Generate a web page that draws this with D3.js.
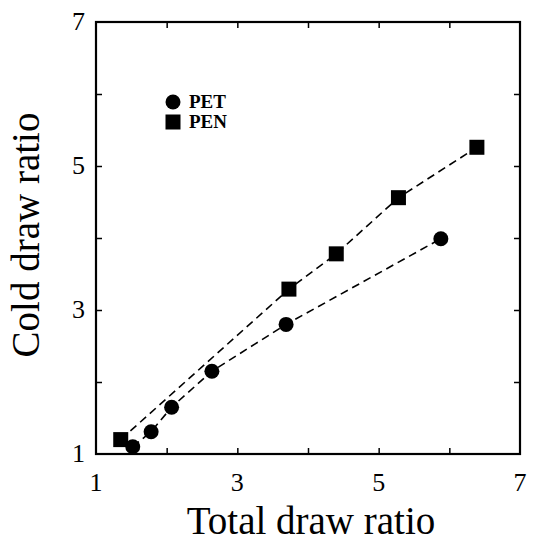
<!DOCTYPE html>
<html>
<head>
<meta charset="utf-8">
<script src="https://cdn.jsdelivr.net/npm/d3@7"></script>
<style>
body { margin: 0; background: #fff; }
text { font-family: "Liberation Serif", "Times New Roman", serif; }
</style>
</head>
<body>
<div id="chart"></div>
<script>
// data
var pet_x = [1.52, 1.78, 2.07, 2.64, 3.69, 5.88];
var pet_y = [1.10, 1.31, 1.65, 2.15, 2.80, 3.99];
var pen_x = [1.35, 3.73, 4.40, 5.28, 6.39];
var pen_y = [1.20, 3.29, 3.78, 4.56, 5.26];
var tick_labels = [1, 3, 5, 7];
var tick_all = [2, 3, 4, 5, 6];

var margin = { top: 22, right: 16, bottom: 91, left: 96 },
    width = 536 - margin.left - margin.right,
    height = 545 - margin.top - margin.bottom;

var svg = d3.select("#chart")
    .append("svg")
    .attr("width", 536)
    .attr("height", 545)
    .append("g")
    .attr("transform", "translate(" + margin.left + "," + margin.top + ")");

var x = d3.scaleLinear().domain([1, 7]).range([0, width]);
var y = d3.scaleLinear().domain([1, 7]).range([height, 0]);

// inward ticks on all four sides
function styleAxis(g) {
    g.select(".domain").remove();
    g.selectAll("line").attr("stroke", "#000").attr("stroke-width", 1.5);
}

svg.append("g")
    .attr("transform", "translate(0," + height + ")")
    .call(d3.axisTop(x).tickValues(tick_all).tickSize(6).tickFormat(""))
    .call(styleAxis);
svg.append("g")
    .call(d3.axisBottom(x).tickValues(tick_all).tickSize(6).tickFormat(""))
    .call(styleAxis);
svg.append("g")
    .call(d3.axisRight(y).tickValues(tick_all).tickSize(6).tickFormat(""))
    .call(styleAxis);
svg.append("g")
    .attr("transform", "translate(" + width + ",0)")
    .call(d3.axisLeft(y).tickValues(tick_all).tickSize(6).tickFormat(""))
    .call(styleAxis);

// tick labels
svg.append("g").selectAll("text")
    .data(tick_labels).enter().append("text")
    .attr("x", function (d) { return x(d); })
    .attr("y", height + 37)
    .attr("text-anchor", "middle")
    .attr("font-size", "26px")
    .text(function (d) { return d; });

svg.append("g").selectAll("text")
    .data(tick_labels).enter().append("text")
    .attr("x", -11)
    .attr("y", function (d) { return y(d) + 8; })
    .attr("text-anchor", "end")
    .attr("font-size", "26px")
    .text(function (d) { return d; });

// frame
svg.append("rect")
    .attr("x", 0).attr("y", 0)
    .attr("width", width).attr("height", height)
    .attr("fill", "none")
    .attr("stroke", "#000")
    .attr("stroke-width", 2.2);

// axis titles
svg.append("text")
    .attr("x", 311 - margin.left)
    .attr("y", 534 - margin.top)
    .attr("text-anchor", "middle")
    .attr("font-size", "39px")
    .text("Total draw ratio");

svg.append("text")
    .attr("transform", "translate(" + (39 - margin.left) + "," + (235 - margin.top) + ") rotate(-90)")
    .attr("text-anchor", "middle")
    .attr("font-size", "39px")
    .text("Cold draw ratio");

var line = d3.line()
    .x(function (d) { return x(d[0]); })
    .y(function (d) { return y(d[1]); });

var pet = d3.zip(pet_x, pet_y);
var pen = d3.zip(pen_x, pen_y);

[pet, pen].forEach(function (s) {
    svg.append("path")
        .datum(s)
        .attr("d", line)
        .attr("fill", "none")
        .attr("stroke", "#000")
        .attr("stroke-width", 1.6)
        .attr("stroke-dasharray", "8,5");
});

svg.append("g").selectAll("circle")
    .data(pet).enter().append("circle")
    .attr("cx", function (d) { return x(d[0]); })
    .attr("cy", function (d) { return y(d[1]); })
    .attr("r", 7.5)
    .attr("fill", "#000");

svg.append("g").selectAll("rect")
    .data(pen).enter().append("rect")
    .attr("x", function (d) { return x(d[0]) - 7.5; })
    .attr("y", function (d) { return y(d[1]) - 7.5; })
    .attr("width", 15)
    .attr("height", 15)
    .attr("fill", "#000");

// legend
var legend = svg.append("g").attr("transform", "translate(77,80)");
legend.append("circle").attr("cx", 0).attr("cy", 0).attr("r", 7.5).attr("fill", "#000");
legend.append("rect").attr("x", -7.5).attr("y", 12.5).attr("width", 15).attr("height", 15).attr("fill", "#000");
legend.append("text").attr("x", 16).attr("y", 6).attr("font-size", "19px").attr("font-weight", "bold").text("PET");
legend.append("text").attr("x", 16).attr("y", 26).attr("font-size", "19px").attr("font-weight", "bold").text("PEN");
</script>
</body>
</html>
